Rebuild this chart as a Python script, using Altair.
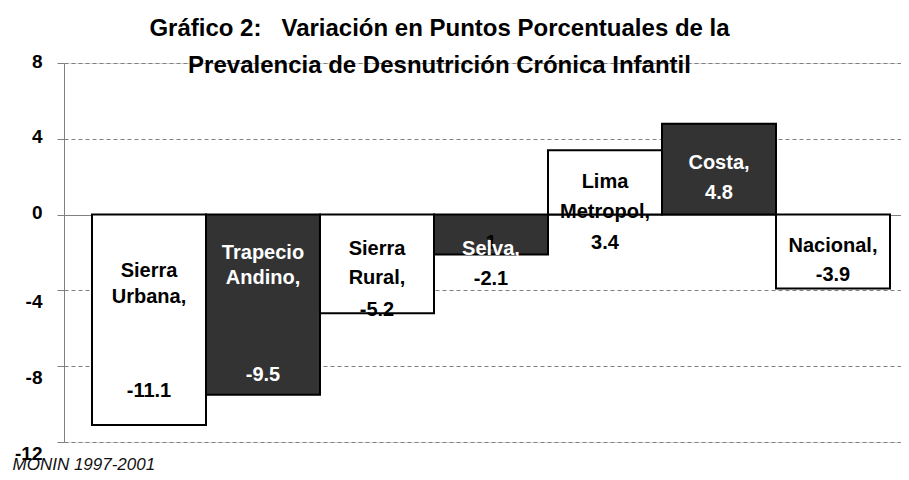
import altair as alt
import pandas as pd

# ---- data ----
categories = ["Sierra Urbana", "Trapecio Andino", "Sierra Rural", "Selva",
              "Lima Metropol", "Costa", "Nacional"]
values = [-11.1, -9.5, -5.2, -2.1, 3.4, 4.8, -3.9]
shades = ["light", "dark", "light", "dark", "light", "dark", "light"]

label_cats = ["Sierra Urbana"] * 3 + ["Trapecio Andino"] * 3 + ["Sierra Rural"] * 3 + \
             ["Selva"] * 3 + ["Lima Metropol"] * 3 + ["Costa"] * 2 + ["Nacional"] * 2
label_texts = ["Sierra", "Urbana,", "-11.1",
               "Trapecio", "Andino,", "-9.5",
               "Sierra", "Rural,", "-5.2",
               "1", "Selva,", "-2.1",
               "Lima", "Metropol,", "3.4",
               "Costa,", "4.8",
               "Nacional,", "-3.9"]
label_y = [-2.98, -4.37, -9.31,
           -2.04, -3.36, -8.46,
           -1.82, -3.35, -5.04,
           -1.50, -1.82, -3.40,
           1.72, 0.14, -1.49,
           2.71, 1.13,
           -1.66, -3.21]
label_tone = ["black", "black", "black",
              "white", "white", "white",
              "black", "black", "black",
              "black", "white", "black",
              "black", "black", "black",
              "white", "white",
              "black", "black"]

y_ticks = [-12, -8, -4, 0, 4, 8]
title_lines = ["Gráfico 2:\u00a0\u00a0\u00a0Variación en Puntos Porcentuales de la",
               "Prevalencia de Desnutrición Crónica Infantil"]
source_note = "MONIN 1997-2001"

bars_df = pd.DataFrame({"cat": categories, "value": values, "shade": shades})
labels_df = pd.DataFrame({"cat": label_cats, "txt": label_texts,
                          "ly": label_y, "tone": label_tone})

FONT = "Liberation Sans"
GRAY = "#808080"

x_enc = alt.X(
    "cat:N", sort=categories,
    scale=alt.Scale(paddingInner=0, paddingOuter=0.171, align=0.718),
    axis=alt.Axis(
        title=source_note, labels=False, ticks=False, domain=False, grid=False,
        titleFont=FONT, titleFontSize=17, titleFontStyle="italic",
        titleFontWeight="normal", titleColor="#111111",
        titleAlign="left", titleBaseline="alphabetic",
        titleX=-52, titleY=27, titleAngle=0,
    ),
)

y_scale = alt.Scale(domain=[-12, 8], nice=False, zero=False)
y_axis = alt.Axis(
    values=y_ticks, title=None,
    labelExpr="replace(datum.label, '\u2212', '-')",
    labelFont=FONT, labelFontSize=19, labelFontWeight="bold", labelColor="black",
    labelPadding=15, tickSize=7, tickColor=GRAY, tickWidth=1,
    domainColor=GRAY, domainWidth=1,
    grid=True, gridColor=GRAY, gridWidth=1,
    gridDash={"condition": {"test": "datum.value === 0", "value": []}, "value": [4, 3]},
    labelOffset={"condition": {"test": "datum.value < 0", "value": 11}, "value": -2},
)

bars = alt.Chart(bars_df).mark_bar(stroke="black", strokeWidth=2).encode(
    x=x_enc,
    y=alt.Y("value:Q", scale=y_scale, axis=y_axis),
    y2=alt.datum(0),
    fill=alt.Fill("shade:N", scale=alt.Scale(domain=["light", "dark"],
                                             range=["white", "#333333"]), legend=None),
)

texts = alt.Chart(labels_df).mark_text(
    font=FONT, fontSize=20, fontWeight="bold", baseline="middle", align="center"
).encode(
    x=x_enc,
    y=alt.Y("ly:Q", scale=y_scale, axis=y_axis),
    text="txt:N",
    color=alt.Color("tone:N", scale=alt.Scale(domain=["black", "white"],
                                              range=["black", "white"]), legend=None),
)

chart = alt.layer(bars, texts).properties(
    width=837, height=379,
    padding={"left": 56, "top": 55, "right": 0, "bottom": 30},
    autosize=alt.AutoSizeParams(type="none"),
    title=alt.TitleParams(
        text=title_lines, font=FONT, fontSize=24, fontWeight="bold", color="black",
        anchor="middle", dx=-43, lineHeight=37, offset=0, baseline="bottom", dy=50,
    ),
).configure_view(stroke=None).configure(background="white")

chart.save("out.html", embed_options={"renderer": "svg", "actions": False})
